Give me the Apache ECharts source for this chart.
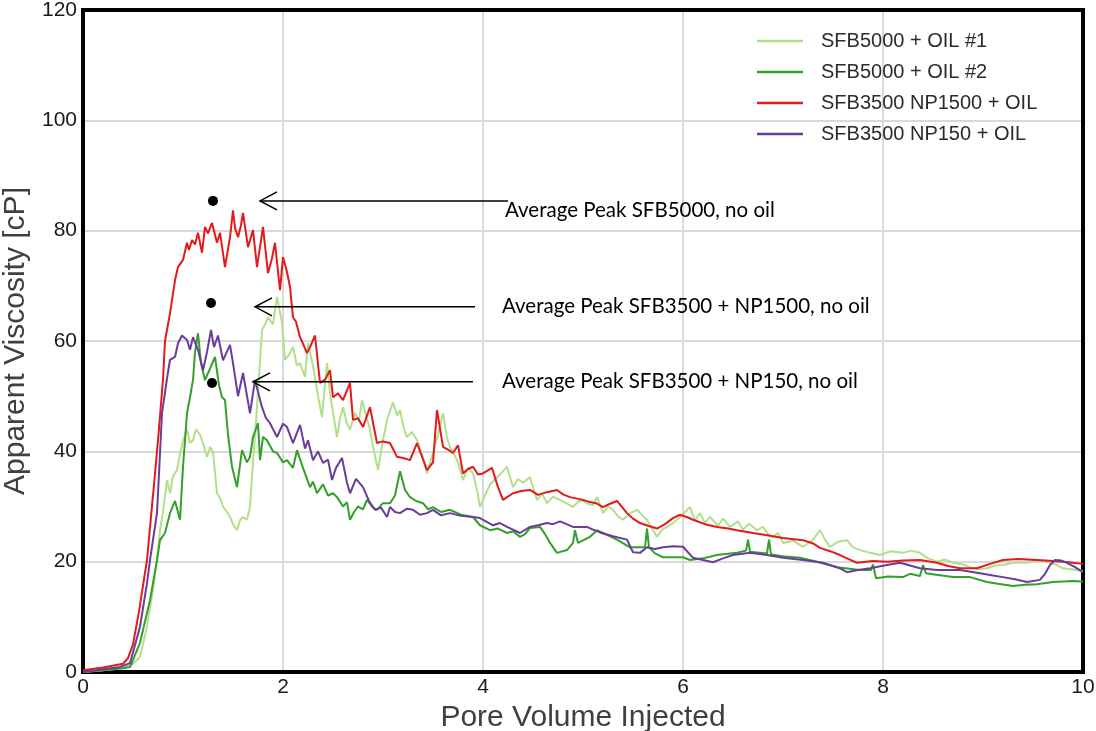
<!DOCTYPE html>
<html>
<head>
<meta charset="utf-8">
<script src="https://cdn.jsdelivr.net/npm/echarts@6/dist/echarts.min.js"></script>
<style>html,body{margin:0;padding:0;background:#fff}#c{width:1096px;height:731px}</style>
</head>
<body>
<div id="c"></div>
<script>
const seriesNames = ['SFB5000 + OIL #1', 'SFB5000 + OIL #2', 'SFB3500 NP1500 + OIL', 'SFB3500 NP150 + OIL'];
const seriesColors = ['#b2df8a', '#33a02c', '#e31a1c', '#6a3d9a'];

const sfb5000Oil1 = [[0,0],[0.2,0.3],[0.4,0.7],[0.5,1.5],[0.57,2.7],[0.64,8.2],[0.7,15],[0.74,20.3],[0.77,25.7],[0.8,29],[0.84,34.8],[0.87,32.4],[0.9,35.5],[0.94,36.6],[0.97,39.5],[1.0,42],[1.04,43.9],[1.07,41.5],[1.1,42],[1.13,44],[1.17,43],[1.2,41.5],[1.24,39],[1.27,40.8],[1.3,39.9],[1.34,32.4],[1.37,31.5],[1.4,30],[1.44,29],[1.47,28.1],[1.5,26.8],[1.54,25.7],[1.57,27.5],[1.6,28.1],[1.64,27.6],[1.67,30],[1.7,38],[1.74,48],[1.79,62],[1.82,63],[1.85,64.3],[1.9,63],[1.94,68],[1.99,63.3],[2.02,56.6],[2.06,57.5],[2.1,58.9],[2.14,55.5],[2.17,56],[2.22,53.5],[2.25,59.6],[2.3,55.5],[2.35,50],[2.39,46.2],[2.44,56],[2.47,50.5],[2.5,47],[2.54,42.6],[2.57,46],[2.6,48],[2.64,45],[2.67,43.9],[2.72,47],[2.76,45.5],[2.79,49.3],[2.83,46.5],[2.87,43.9],[2.91,40],[2.95,36.6],[3.0,42],[3.04,45.7],[3.1,48.9],[3.14,46.5],[3.17,47.5],[3.21,44],[3.24,42.6],[3.29,43.5],[3.34,42],[3.39,39.5],[3.44,36],[3.5,39.7],[3.55,43],[3.6,46.9],[3.64,42.5],[3.67,40.8],[3.71,39.5],[3.75,38],[3.8,34.8],[3.85,37],[3.9,36],[3.94,33],[3.97,29.9],[4.02,32],[4.07,34],[4.14,35.3],[4.19,36.2],[4.24,37.2],[4.3,33.5],[4.35,35],[4.4,34.3],[4.47,35.3],[4.54,31.2],[4.59,32.3],[4.64,30.6],[4.7,31.8],[4.77,31.2],[4.84,30.5],[4.9,29.9],[4.97,31.2],[5.04,30.6],[5.1,30.2],[5.14,31.7],[5.2,28.8],[5.25,30],[5.3,29.4],[5.35,28.2],[5.4,27.6],[5.47,28.8],[5.54,29.4],[5.6,28.3],[5.64,27.6],[5.69,26],[5.74,24.5],[5.79,25.8],[5.84,26.3],[5.9,27],[5.94,27.6],[6.0,28.6],[6.07,29.9],[6.12,27.5],[6.17,28.8],[6.22,27],[6.27,28.1],[6.35,26.5],[6.4,27.8],[6.47,26.3],[6.55,27.3],[6.6,25.8],[6.66,26.9],[6.74,25.7],[6.8,26.3],[6.85,25],[6.9,24.5],[6.95,25.2],[7.0,23.4],[7.1,23.8],[7.2,22.7],[7.3,24],[7.37,25.7],[7.42,24],[7.47,22.7],[7.55,23.6],[7.64,23.9],[7.7,22.6],[7.77,22.1],[7.87,21.6],[7.97,21.2],[8.08,21.9],[8.2,21.6],[8.28,22],[8.37,21.6],[8.45,20.6],[8.54,20],[8.62,20.4],[8.7,19.8],[8.8,19.5],[8.87,19],[8.95,18.6],[9.04,18.8],[9.12,19.3],[9.2,19.4],[9.3,19.8],[9.44,19.8],[9.54,20.2],[9.64,20],[9.72,19.5],[9.8,18.8],[9.9,18.6],[10,18.3]];

const sfb5000Oil2 = [[0,0],[0.2,0.3],[0.4,0.7],[0.47,0.9],[0.57,5.3],[0.67,13],[0.74,20.3],[0.77,23.9],[0.82,25.2],[0.87,28.8],[0.92,31],[0.94,31.2],[0.97,27.6],[1.0,37.2],[1.04,46.9],[1.07,49.8],[1.1,52.9],[1.12,58],[1.15,61.4],[1.18,56],[1.22,52.9],[1.27,55],[1.32,57.1],[1.36,52],[1.39,49.8],[1.42,49.3],[1.45,43],[1.49,37.2],[1.54,33.5],[1.59,40.2],[1.64,38],[1.67,39],[1.7,42.6],[1.75,45.1],[1.77,38.4],[1.8,42.6],[1.84,42],[1.9,40],[1.94,39.7],[2.0,38],[2.04,38.4],[2.1,37],[2.14,40.2],[2.2,37],[2.27,33.5],[2.3,34.5],[2.34,32.4],[2.4,34],[2.45,32],[2.5,32.4],[2.54,31.7],[2.6,30],[2.64,30.8],[2.67,27.6],[2.71,29],[2.75,30],[2.8,29.5],[2.84,31.2],[2.9,29.8],[2.94,29.4],[3.0,30.6],[3.07,30.6],[3.12,32],[3.17,36.4],[3.22,33],[3.27,31.7],[3.33,31],[3.4,30.6],[3.45,29.5],[3.5,29.9],[3.58,29],[3.67,29.4],[3.78,28.5],[3.9,28.1],[3.97,26.6],[4.07,25.7],[4.15,26],[4.24,25.2],[4.3,25.5],[4.37,24.5],[4.42,25],[4.47,26.1],[4.57,26.3],[4.62,25],[4.67,23.4],[4.74,21.6],[4.84,22.1],[4.9,23.4],[4.92,25.7],[4.95,23.4],[5.07,24.5],[5.14,25.7],[5.2,25.2],[5.34,24],[5.47,22.6],[5.62,22.6],[5.64,26],[5.66,22.6],[5.72,21.5],[5.8,20.8],[6.0,20.8],[6.07,20.3],[6.2,20.6],[6.34,21.2],[6.54,21.6],[6.63,22],[6.65,24],[6.67,21.8],[6.84,21.5],[6.86,24],[6.88,21.3],[7.0,21],[7.17,20.7],[7.34,20],[7.54,19],[7.77,18.5],[7.88,18.5],[7.9,19.5],[7.93,17],[8.05,17.3],[8.2,17.2],[8.27,17.8],[8.37,17.4],[8.4,19.4],[8.43,17.9],[8.55,17.6],[8.7,17.2],[8.87,17.2],[9.04,16.3],[9.15,16],[9.3,15.6],[9.42,15.8],[9.54,15.9],[9.7,16.3],[9.8,16.4],[9.9,16.5],[10,16.4]];

const sfb3500Np1500 = [[0,0.3],[0.2,0.8],[0.4,1.5],[0.45,2.5],[0.5,5],[0.56,11],[0.64,20.3],[0.7,32],[0.75,42],[0.8,53],[0.82,60],[0.87,65],[0.92,71],[0.95,73.4],[1.0,74.7],[1.04,77.8],[1.06,76.5],[1.09,78.3],[1.12,77.5],[1.15,79.6],[1.19,76],[1.22,80.7],[1.25,79.5],[1.29,81.4],[1.34,77.8],[1.37,79.6],[1.42,73.4],[1.47,78.8],[1.5,83.7],[1.52,80.5],[1.55,78.8],[1.58,81],[1.6,83.2],[1.65,77],[1.7,80.1],[1.74,73.4],[1.8,80.7],[1.85,72.3],[1.89,75],[1.92,77.8],[1.97,69.2],[2.0,75.2],[2.04,72.5],[2.07,69.8],[2.1,64.3],[2.13,63.5],[2.17,60.7],[2.2,59.5],[2.24,57.8],[2.27,58.9],[2.32,61],[2.37,52.4],[2.42,53],[2.47,54.7],[2.5,49.8],[2.55,50.5],[2.6,49.3],[2.67,52.4],[2.7,45.7],[2.75,46],[2.8,44.4],[2.87,48],[2.94,41.5],[3.0,41.8],[3.07,41.5],[3.14,39],[3.2,38.8],[3.27,38.4],[3.34,41.5],[3.44,36.6],[3.5,38],[3.54,47.5],[3.6,40.8],[3.65,40.3],[3.7,39.7],[3.75,41.1],[3.8,36],[3.85,36.8],[3.9,37.2],[3.95,35.8],[4.0,36],[4.09,37],[4.15,33.5],[4.2,31.2],[4.3,32.4],[4.38,32.8],[4.47,33],[4.55,32.1],[4.64,32.6],[4.74,33],[4.8,32.2],[4.87,31.7],[5.0,31.2],[5.07,30.8],[5.13,30.6],[5.2,29.9],[5.27,30.5],[5.34,31],[5.44,28.8],[5.5,27.8],[5.57,27],[5.65,26.5],[5.74,26],[5.82,26.8],[5.9,27.9],[5.97,28.5],[6.05,28],[6.1,27.6],[6.22,26.8],[6.34,26.3],[6.45,26],[6.54,25.7],[6.7,25.2],[6.84,24.8],[7.0,24.3],[7.2,23.9],[7.3,23.3],[7.37,22.5],[7.47,21.9],[7.57,21.2],[7.65,20.5],[7.74,19.8],[7.9,20.1],[8.04,20],[8.2,20.2],[8.37,20.3],[8.54,19.8],[8.65,19.2],[8.77,18.8],[8.94,18.8],[9.07,19.6],[9.2,20.3],[9.35,20.5],[9.54,20.3],[9.7,20.1],[9.85,19.9],[10,19.6]];

const sfb3500Np150 = [[0,0],[0.2,0.5],[0.37,0.9],[0.47,1.6],[0.57,8.2],[0.64,16.1],[0.67,20.3],[0.74,28.8],[0.79,46.9],[0.84,53.2],[0.87,56.6],[0.92,57.1],[0.95,59.6],[0.99,61],[1.04,60.2],[1.07,58.4],[1.1,60.7],[1.15,58.4],[1.2,54.7],[1.24,58],[1.28,62],[1.31,58.9],[1.35,61],[1.4,56.5],[1.47,59.3],[1.5,56],[1.55,50],[1.6,54.2],[1.67,46.9],[1.72,52.9],[1.79,48],[1.83,46],[1.87,45.1],[1.94,42.6],[2.0,45],[2.04,44.4],[2.1,41.5],[2.17,44.8],[2.22,40.5],[2.25,42],[2.3,38.4],[2.35,40],[2.4,37.9],[2.45,38.5],[2.49,34.8],[2.53,37],[2.59,38.8],[2.64,34.3],[2.67,32.4],[2.73,35],[2.8,33.5],[2.86,31],[2.92,29.4],[2.98,29.8],[3.04,28.1],[3.07,29.9],[3.12,29],[3.17,28.8],[3.24,29.6],[3.3,29.4],[3.37,28.5],[3.44,28.8],[3.5,29.4],[3.58,28.4],[3.67,28.8],[3.78,28.3],[3.9,28.1],[3.97,27.9],[4.1,26.6],[4.17,27],[4.24,26.3],[4.3,25.8],[4.37,25.2],[4.47,26.3],[4.55,26.6],[4.64,27],[4.7,26.8],[4.77,27.3],[4.9,26.3],[5.04,26.3],[5.1,25.8],[5.17,25.3],[5.3,24.6],[5.44,24],[5.5,21.7],[5.57,21.6],[5.64,22.6],[5.72,22.3],[5.8,22.6],[5.9,22.8],[6.0,22.7],[6.1,20.7],[6.2,20.3],[6.3,19.9],[6.4,20.6],[6.5,21.2],[6.67,21.6],[6.84,21.2],[7.0,20.7],[7.2,20.3],[7.4,19.8],[7.57,18.8],[7.64,18.1],[7.75,18.5],[7.87,18.8],[8.04,19.4],[8.17,19.8],[8.27,19.3],[8.37,18.8],[8.54,18.5],[8.77,18.5],[8.97,17.9],[9.1,17.5],[9.2,17.2],[9.32,16.8],[9.44,16.3],[9.57,16.7],[9.62,17.8],[9.67,19.4],[9.72,20.3],[9.78,20.2],[9.84,19.8],[9.92,19],[10,18.1]];

// Average peak markers (no oil)
const peakX = [1.30, 1.28, 1.29];
const peakY = [85.4, 66.9, 52.4];

// Annotations: arrow tip x, arrow tail x, arrow y, text x, text y
const annText = ['Average Peak SFB5000, no oil', 'Average Peak SFB3500 + NP1500, no oil', 'Average Peak SFB3500 + NP150, no oil'];
const annTipX = [1.77, 1.72, 1.70];
const annTailX = [4.25, 3.92, 3.90];
const annArrowY = [85.4, 66.2, 52.6];
const annTextX = [4.22, 4.19, 4.19];
const annTextY = [83.6, 66.2, 52.6];

const xTicks = { min: 0, max: 10, interval: 2 };
const yTicks = { min: 0, max: 120, interval: 20 };

const seriesData = [sfb5000Oil1, sfb5000Oil2, sfb3500Np1500, sfb3500Np150];

const chart = echarts.init(document.getElementById('c'), null, { renderer: 'canvas' });

const lineSeries = seriesData.map((d, i) => ({
  name: seriesNames[i],
  type: 'line',
  data: d,
  showSymbol: false,
  symbol: 'none',
  lineStyle: { color: seriesColors[i], width: 2 },
  itemStyle: { color: seriesColors[i] },
  animation: false
}));

const annData = annText.map((t, i) => [annTipX[i], annTailX[i], annArrowY[i], annTextX[i], annTextY[i]]);

const frameLine = { show: true, onZero: false, lineStyle: { color: '#000', width: 4, cap: 'square' } };
const labelFont = 'Liberation Sans, Arial';

const option = {
  animation: false,
  backgroundColor: '#fff',
  grid: { left: 83, right: 13, top: 10, bottom: 59, show: false, outerBoundsMode: 'none', containLabel: false },
  legend: {
    data: seriesNames,
    left: 757, top: 30, orient: 'vertical', padding: 0,
    icon: 'rect', itemWidth: 46, itemHeight: 2.5, itemGap: 9,
    textStyle: { fontSize: 20, color: '#2b2b2b', fontFamily: labelFont, padding: [0, 0, 0, 13], lineHeight: 22 }
  },
  xAxis: [{
    type: 'value', min: xTicks.min, max: xTicks.max, interval: xTicks.interval, position: 'bottom',
    name: 'Pore Volume Injected', nameLocation: 'middle', nameGap: 29,
    nameTextStyle: { fontSize: 30, color: '#404040', fontFamily: labelFont },
    axisLine: frameLine, axisTick: { show: false },
    axisLabel: { fontSize: 21, color: '#1a1a1a', margin: 5, fontFamily: labelFont },
    splitLine: { show: true, lineStyle: { color: '#d9d9d9', width: 2 } }
  }, {
    type: 'value', min: xTicks.min, max: xTicks.max, interval: xTicks.interval, position: 'top',
    axisLine: frameLine, axisTick: { show: false }, axisLabel: { show: false }, splitLine: { show: false }
  }],
  yAxis: [{
    type: 'value', min: yTicks.min, max: yTicks.max, interval: yTicks.interval, position: 'left',
    name: 'Apparent Viscosity [cP]', nameLocation: 'middle', nameGap: 46,
    nameTextStyle: { fontSize: 30, color: '#404040', fontFamily: labelFont },
    axisLine: frameLine, axisTick: { show: false },
    axisLabel: { fontSize: 21, color: '#1a1a1a', margin: 6, fontFamily: labelFont },
    splitLine: { show: true, lineStyle: { color: '#d9d9d9', width: 2 } }
  }, {
    type: 'value', min: yTicks.min, max: yTicks.max, interval: yTicks.interval, position: 'right',
    axisLine: frameLine, axisTick: { show: false }, axisLabel: { show: false }, splitLine: { show: false }
  }],
  series: lineSeries.concat([
    {
      name: 'peaks', type: 'scatter', data: peakX.map((x, i) => [x, peakY[i]]),
      symbolSize: 10, itemStyle: { color: '#000', opacity: 1 }, z: 5, silent: true
    },
    {
      name: 'annotations', type: 'custom', data: annData, clip: false, z: 6, silent: true,
      encode: { x: [0, 1, 3], y: [2, 4] },
      renderItem: function (params, api) {
        const tip = api.coord([api.value(0), api.value(2)]);
        const tail = api.coord([api.value(1), api.value(2)]);
        const txt = api.coord([api.value(3), api.value(4)]);
        return {
          type: 'group',
          children: [
            { type: 'line', shape: { x1: tail[0], y1: tail[1], x2: tip[0], y2: tip[1] }, style: { stroke: '#000', lineWidth: 1.5 } },
            { type: 'polyline', shape: { points: [[tip[0] + 17, tip[1] - 9], [tip[0], tip[1]], [tip[0] + 17, tip[1] + 9]] }, style: { stroke: '#000', lineWidth: 1.5, fill: null } },
            { type: 'text', x: txt[0], y: txt[1], style: { text: annText[params.dataIndex], fill: '#000', font: '20.5px Lato', verticalAlign: 'middle', align: 'left' } }
          ]
        };
      }
    }
  ])
};
chart.setOption(option);
</script>
</body>
</html>
